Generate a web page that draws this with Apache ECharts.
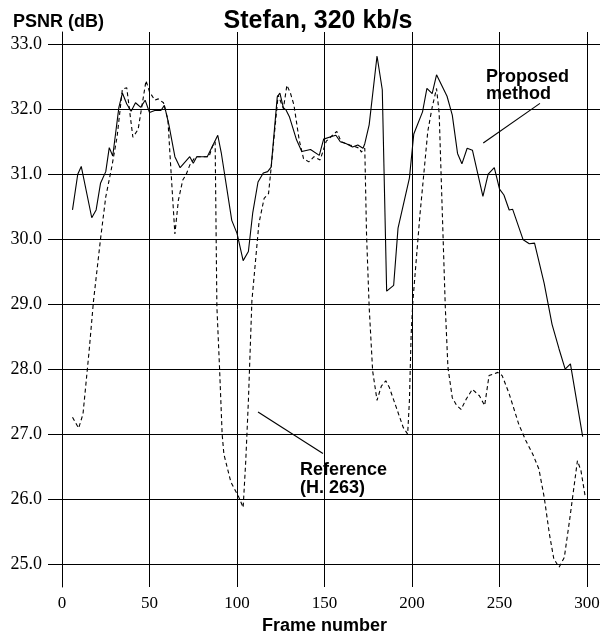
<!DOCTYPE html>
<html>
<head>
<meta charset="utf-8">
<script src="https://cdn.jsdelivr.net/npm/echarts@6/dist/echarts.min.js"></script>
<style>html,body{margin:0;padding:0;background:#fff;}#c{width:608px;height:640px;}</style>
</head>
<body>
<div id="c"></div>
<script>
// ---- data ----
const titleText = 'Stefan, 320 kb/s';
const yName = 'PSNR (dB)';
const xName = 'Frame number';
const yTicks = [25, 26, 27, 28, 29, 30, 31, 32, 33];
const xTicks = [0, 50, 100, 150, 200, 250, 300];

const propFrames = [6,9,11,17,19.5,22,25,27,29,32.5,34.5,37,39.5,42,45,47.5,50,53,56.5,58.5,61,64.5,67.5,73,75,77,83,89,91,97,100,103.5,106.5,109,112,115,117.5,119.5,123,124.5,126.5,128,130,134,137,142,147,149.5,154,156.5,159,162.5,166,169,172,173,175.5,180,183,185.5,189.5,192,198.5,201,206,208.5,211.5,214,220,223,226,228.5,231.5,234.5,240.5,243.5,247,250,252.5,255.5,257.5,263.5,267,270,275.5,280,284,287.5,290.5,297.5];
const propPSNR = [30.45,31.0,31.12,30.33,30.45,30.86,31.04,31.41,31.28,32.03,32.25,32.08,31.97,32.1,32.03,32.14,31.95,31.98,31.98,32.06,31.77,31.27,31.1,31.27,31.17,31.27,31.27,31.6,31.33,30.29,30.09,29.67,29.81,30.41,30.88,31.02,31.04,31.11,32.19,32.25,32.02,31.99,31.88,31.53,31.35,31.38,31.29,31.54,31.58,31.6,31.5,31.47,31.42,31.45,31.4,31.47,31.76,32.82,32.3,29.2,29.29,30.17,30.94,31.62,31.96,32.32,32.24,32.53,32.2,31.91,31.32,31.16,31.4,31.37,30.66,31.0,31.1,30.77,30.68,30.45,30.46,29.99,29.93,29.94,29.32,28.69,28.31,28.0,28.08,26.96];

const refFrames = [6,9.5,12,15.5,18,22,25,28.5,31.5,34.5,37,40.5,43.5,48,50,53,55,58,60.5,62,64.5,66.5,69,71,73,75.5,77,84,86,87.5,88.5,90,91.5,92.5,96.5,101,103.5,105,106.5,108.5,112.5,115.5,118,119.5,123.5,126.5,128.5,130.5,132.5,135.5,138,141,144,147.5,151,157,159.5,164.5,170,171,173,174,175.5,177.5,180,182.5,185,187,191,195,197.5,198.5,199.5,200.5,204.5,206.5,209,211.5,214,215.5,217,219,220.5,223,225.5,228,231,234.5,238.5,241.5,244,249,251.5,255.5,261,265,269,272.5,275.5,278.5,281,284,287,290,292.5,294.5,296.5,299];
const refPSNR = [27.26,27.09,27.31,28.28,29.05,30.0,30.65,31.12,31.58,32.31,32.33,31.57,31.69,32.44,32.27,32.14,32.16,32.1,31.84,31.17,30.08,30.6,30.91,31.0,31.14,31.24,31.27,31.27,31.43,31.5,28.96,28.03,27.0,26.69,26.26,26.03,25.87,26.59,27.51,29.05,30.24,30.63,30.7,31.1,32.22,32.01,32.37,32.25,32.07,31.53,31.24,31.19,31.27,31.22,31.51,31.66,31.5,31.45,31.4,31.34,31.4,30.08,28.96,27.97,27.52,27.74,27.82,27.72,27.41,27.1,27.0,27.51,28.54,29.05,30.37,30.94,31.66,32.03,32.32,31.94,30.66,28.96,28.03,27.56,27.44,27.38,27.54,27.69,27.59,27.44,27.9,27.95,27.9,27.62,27.15,26.9,26.69,26.46,26.03,25.46,25.08,24.95,25.1,25.67,26.18,26.59,26.44,26.03];

// annotation leader lines (data coordinates)
const propLeader = [[240.7, 31.48], [273.1, 32.09]];
const refLeader = [[112, 27.34], [149.1, 26.70]];
const propLabel = 'Proposed\nmethod';
const refLabel = 'Reference\n(H. 263)';

const zip = (a, b) => a.map((v, i) => [v, b[i]]);

const chart = echarts.init(document.getElementById('c'), null, {renderer: 'canvas'});
const serif = 'Liberation Serif';
const sans = 'Liberation Sans';
chart.setOption({
  animation: false,
  backgroundColor: '#fff',
  title: [
    {text: titleText, left: 313, top: 4, textAlign: 'center',
     textStyle: {fontFamily: sans, fontWeight: 'bold', fontSize: 25, color: '#000'}},
    {text: yName, left: 8, top: 8,
     textStyle: {fontFamily: sans, fontWeight: 'bold', fontSize: 18, color: '#000'}}
  ],
  grid: [
    {left: 62, right: 8, top: 44.3, bottom: 76},
    {left: 62, right: 21, top: 32, bottom: 47}
  ],
  xAxis: [
    {gridIndex: 0, type: 'value', min: 0, max: 307.4, show: false},
    {gridIndex: 1, type: 'value', min: xTicks[0], max: xTicks[xTicks.length - 1], interval: 50,
     axisLine: {show: false}, axisTick: {show: false},
     splitLine: {show: true, lineStyle: {color: '#000', width: 1}},
     axisLabel: {margin: 8, fontFamily: serif, fontSize: 17, color: '#000'},
     name: xName, nameLocation: 'middle', nameGap: 30,
     nameTextStyle: {fontFamily: sans, fontWeight: 'bold', fontSize: 18, color: '#000'}}
  ],
  yAxis: [
    {gridIndex: 0, type: 'value', min: yTicks[0], max: yTicks[yTicks.length - 1], interval: 1,
     axisLine: {show: false},
     axisTick: {show: true, length: 14, lineStyle: {color: '#000', width: 1}},
     splitLine: {show: true, lineStyle: {color: '#000', width: 1}},
     axisLabel: {margin: 20, fontFamily: serif, fontSize: 18, color: '#000',
                 formatter: v => v.toFixed(1)}},
    {gridIndex: 1, type: 'value', min: 0, max: 1,
     axisLine: {show: true, lineStyle: {color: '#000', width: 1}},
     axisTick: {show: false}, axisLabel: {show: false}, splitLine: {show: false}}
  ],
  series: [
    {type: 'line', name: 'Proposed method', xAxisIndex: 0, yAxisIndex: 0,
     data: zip(propFrames, propPSNR), showSymbol: false, symbol: 'none', clip: false,
     lineStyle: {color: '#000', width: 1.1},
     markLine: {silent: true, symbol: 'none', label: {show: false},
       lineStyle: {color: '#000', width: 1.1, type: 'solid'},
       data: [[{coord: propLeader[0]}, {coord: propLeader[1]}],
              [{coord: refLeader[0]}, {coord: refLeader[1]}]]}},
    {type: 'line', name: 'Reference (H. 263)', xAxisIndex: 0, yAxisIndex: 0,
     data: zip(refFrames, refPSNR), showSymbol: false, symbol: 'none', clip: false,
     lineStyle: {color: '#000', width: 1.1, type: [4, 3]}}
  ],
  graphic: [
    {type: 'text', left: 486, top: 68,
     style: {text: propLabel, font: 'bold 18px "Liberation Sans"', fill: '#000', lineHeight: 17}},
    {type: 'text', left: 300, top: 461,
     style: {text: refLabel, font: 'bold 18px "Liberation Sans"', fill: '#000', lineHeight: 18}}
  ]
});
</script>
</body>
</html>
